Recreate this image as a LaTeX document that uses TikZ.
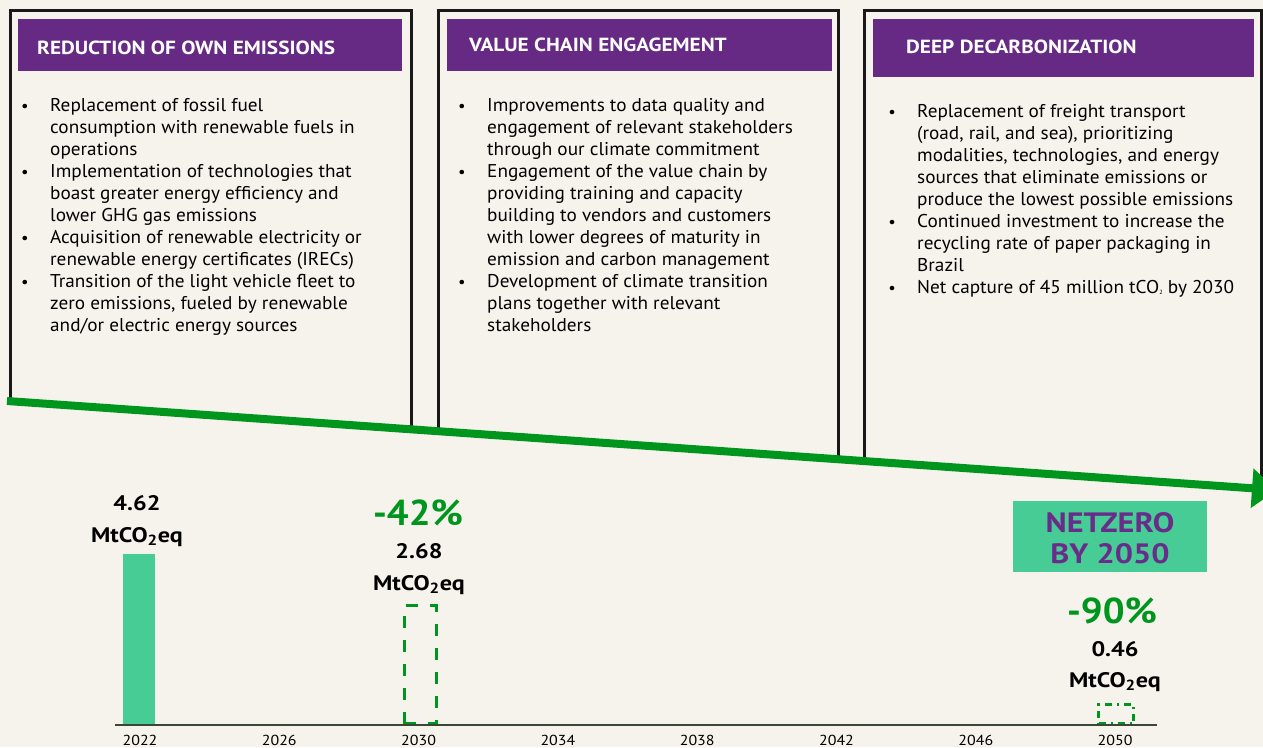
\documentclass[tikz,border=0pt]{standalone}
\usepackage{fontspec}
\setmainfont{PT Sans}[FakeStretch=1.04]
\newfontfamily\titlefont{PT Sans}[FakeStretch=1.12]
\newfontfamily\numfont{PT Sans}[FakeStretch=1.15]
\newfontfamily\pctfont{PT Sans}[FakeStretch=1.07]
\newfontfamily\yearfont{PT Sans}[FakeStretch=1.1]
\usetikzlibrary{arrows.meta}
\definecolor{bg}{HTML}{F6F3EC}
\definecolor{hdr}{HTML}{662A84}
\definecolor{grn}{HTML}{00961E}
\definecolor{mint}{HTML}{48CC95}
\definecolor{axisc}{HTML}{3C4634}
\definecolor{ntz}{HTML}{6A2C8A}
\begin{document}
\begin{tikzpicture}[x=1pt,y=-1pt,
  bodytext/.style={anchor=base west, inner sep=0pt, font=\fontsize{18.5}{22}\selectfont, text=black},
  bul/.style={anchor=base, inner sep=0pt, font=\fontsize{16}{20}\selectfont, text=black},
  titletext/.style={anchor=base west, inner sep=0pt, font=\titlefont\bfseries\fontsize{19}{22}\selectfont, text=white},
  header/.style={fill=hdr, anchor=north west, inner sep=0pt, minimum height=52pt},
  boxline/.style={draw=black!90, line width=3pt, line join=miter},
  numtext/.style={anchor=base, inner sep=0pt, font=\numfont\bfseries\fontsize{21}{24}\selectfont, text=black},
  pcttext/.style={anchor=base, inner sep=0pt, font=\pctfont\bfseries\fontsize{36}{40}\selectfont, text=grn},
  yeartext/.style={anchor=base, inner sep=0pt, font=\yearfont\fontsize{14.5}{16}\selectfont, text=black},
  ntztext/.style={anchor=base, inner sep=0pt, font=\numfont\bfseries\fontsize{28}{32}\selectfont, text=ntz},
  targetbox/.style={draw=grn, line width=3pt, anchor=south, inner sep=0pt, minimum width=32pt}
]
\fill[bg] (0,0) rectangle (1263,747);
\useasboundingbox (0,0) rectangle (1263,747);
\clip (0,0) rectangle (1263,747);

% ---- box outlines
\coordinate (b1bl) at (10,402);
\coordinate (b1tl) at (10,10);
\coordinate (b1tr) at (411,10);
\coordinate (b1br) at (411,430);
\coordinate (b2bl) at (438,432);
\coordinate (b2tl) at (438,10);
\coordinate (b2tr) at (838,10);
\coordinate (b2br) at (838,460);
\coordinate (b3bl) at (864,462);
\coordinate (b3tl) at (864,10);
\coordinate (b3tr) at (1261,10);
\coordinate (b3br) at (1261,488);
\draw[boxline] (b1bl) -- (b1tl) -- (b1tr) -- (b1br);
\draw[boxline] (b2bl) -- (b2tl) -- (b2tr) -- (b2br);
\draw[boxline] (b3bl) -- (b3tl) -- (b3tr) -- (b3br);

% ---- headers
\node[header, minimum width=384pt] (h1) at (18,19) {};
\node[header, minimum width=385pt] (h2) at (447,19) {};
\node[header, minimum width=381pt, minimum height=58pt] (h3) at (873,19) {};
\node[titletext] (t1) at (37,54) {REDUCTION OF OWN EMISSIONS};
\node[titletext] (t2) at (469,51) {VALUE CHAIN ENGAGEMENT};
\node[titletext] (t3) at (906,53) {DEEP DECARBONIZATION};

% ---- box 1 text
\foreach \t [count=\i from 0] in {
  {Replacement of fossil fuel},
  {consumption with renewable fuels in},
  {operations},
  {Implementation of technologies that},
  {boast greater energy efficiency and},
  {lower GHG gas emissions},
  {Acquisition of renewable electricity or},
  {renewable energy certificates (IRECs)},
  {Transition of the light vehicle fleet to},
  {zero emissions, fueled by renewable},
  {and/or electric energy sources}}
  \node[bodytext] (a\i) at (50,{111+22*\i}) {\t};
\foreach \k in {0,3,6,8}
  \node[bul] (ab\k) at (25,{111+22*\k}) {•};

% ---- box 2 text
\foreach \t [count=\i from 0] in {
  {Improvements to data quality and},
  {engagement of relevant stakeholders},
  {through our climate commitment},
  {Engagement of the value chain by},
  {providing training and capacity},
  {building to vendors and customers},
  {with lower degrees of maturity in},
  {emission and carbon management},
  {Development of climate transition},
  {plans together with relevant},
  {stakeholders}}
  \node[bodytext] (b\i) at (487,{111+22*\i}) {\t};
\foreach \k in {0,3,8}
  \node[bul] (bb\k) at (462,{111+22*\k}) {•};

% ---- box 3 text
\foreach \t [count=\i from 0] in {
  {Replacement of freight transport},
  {(road, rail, and sea), prioritizing},
  {modalities, technologies, and energy},
  {sources that eliminate emissions or},
  {produce the lowest possible emissions},
  {Continued investment to increase the},
  {recycling rate of paper packaging in},
  {Brazil},
  {Net capture of 45 million tCO\raisebox{-1.5pt}{\fontsize{6}{6}\selectfont 2} by 2030}}
  \node[bodytext] (c\i) at (917,{117+22*\i}) {\t};
\foreach \k in {0,5,8}
  \node[bul] (cb\k) at (892,{117+22*\k}) {•};

% ---- green arrow
\coordinate (as) at (7,401);
\coordinate (ae) at (1277,490);
\draw[grn, line width=8pt, -{Triangle[width=38pt,length=25pt]}] (as) -- (ae);

% ---- chart
\coordinate (ax0) at (115,725);
\coordinate (ax1) at (1157,725);
\node[fill=mint, anchor=south, inner sep=0pt, minimum width=32pt, minimum height=171pt] (bar22) at (139,725) {};
\node[targetbox, dash pattern=on 12pt off 12pt, minimum height=118pt] (bar30) at (420,725) {};
\node[targetbox, dash pattern=on 7pt off 5pt on 2pt off 5pt, minimum width=35pt, minimum height=19pt] (bar50) at (1116,725) {};
\draw[axisc, line width=1.5pt] (ax0) -- (ax1);

\foreach \yr [count=\i from 0] in {2022,2026,2030,2034,2038,2042,2046,2050}
  \node[yeartext] (y\yr) at ({140+139.3*\i},745) {\yr};

\node[numtext] (v22) at (137,510) {4.62};
\node[numtext] (u22) at (137,542) {MtCO\textsubscript{2}eq};

\node[pcttext] (p30) at (418,525) {-42\%};
\node[numtext] (v30) at (419,558) {2.68};
\node[numtext] (u30) at (419,590) {MtCO\textsubscript{2}eq};

\node[fill=mint, anchor=north west, inner sep=0pt, minimum width=194pt, minimum height=71pt] (nz) at (1013,501) {};
\node[ntztext] (nz1) at (1110,532) {NETZERO};
\node[ntztext] (nz2) at (1110,563) {BY 2050};

\node[pcttext] (p50) at (1112,623) {-90\%};
\node[numtext] (v50) at (1115,656) {0.46};
\node[numtext] (u50) at (1115,687) {MtCO\textsubscript{2}eq};
\end{tikzpicture}
\end{document}
